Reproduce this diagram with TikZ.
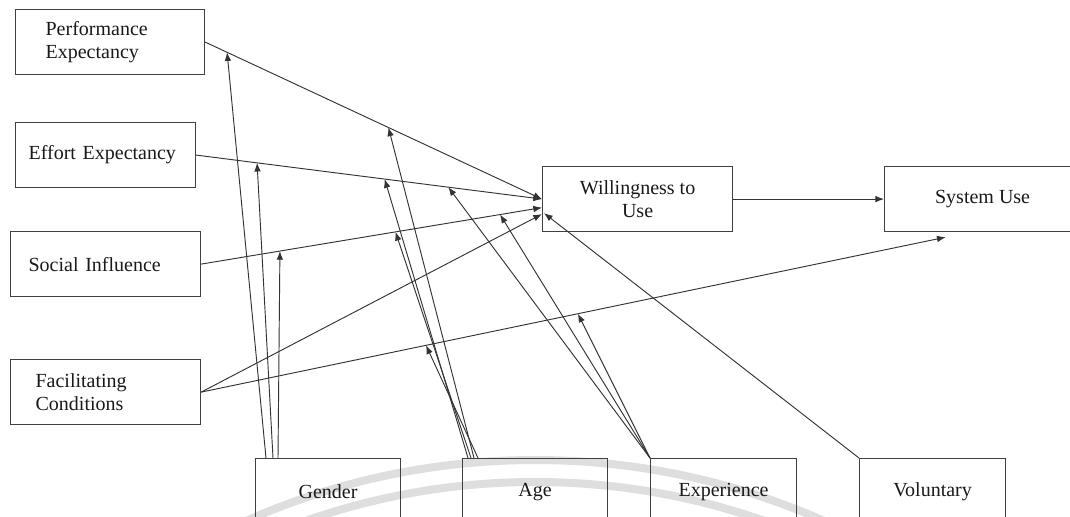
\documentclass[tikz,border=0pt]{standalone}
\usepackage{fontspec}
\setmainfont{Liberation Serif}
\usetikzlibrary{arrows.meta,calc}
\begin{document}
\begin{tikzpicture}[x=0.75pt,y=-0.75pt,
  box/.style={draw=black!75, line width=0.9pt, rectangle, minimum height=48.75pt,
    font=\fontsize{15}{17.5}\selectfont, inner ysep=0pt, text=black!90},
  conn/.style={draw=black!80, line width=0.7pt, -{Latex[length=6.5pt,width=5pt]}},
  wm/.style={draw=black!13, line width=6pt}]
\clip (0,0) rectangle (1070,517);
\fill[white] (0,0) rectangle (1070,517);
% watermark arcs
\draw[wm] (535,1174) circle[radius=535.5pt];
\draw[wm] (535,1174) circle[radius=519pt];
% predictor boxes
\node[box, anchor=north west, inner xsep=22.5pt, text width=96.75pt, align=left] (pe) at (15,9) {Performance\\Expectancy};
\node[box, anchor=north west, inner xsep=9.75pt, text width=115.5pt, align=left] (ee) at (15,122) {Effort Expectancy};
\node[box, anchor=north west, inner xsep=13.5pt, text width=115.5pt, align=left] (si) at (10,231) {Social Influence};
\node[box, anchor=north west, inner xsep=18.75pt, text width=105pt, align=left] (fc) at (10,359) {Facilitating\\Conditions};
% outcome boxes
\node[box, anchor=north west, minimum width=142.5pt, align=center] (wu) at (542,166) {Willingness to\\Use};
\node[box, anchor=north west, minimum width=147pt] (su) at (884,166) {System Use};
% moderator boxes
\node[box, anchor=north west, minimum width=108.75pt, minimum height=49.5pt] (gender) at (255,458) {Gender};
\node[box, anchor=north west, minimum width=108.75pt, minimum height=49.5pt] (age) at (462,458) {Age};
\node[box, anchor=north west, minimum width=109.5pt, minimum height=49.5pt] (exp) at (650,458) {Experience};
\node[box, anchor=north west, minimum width=109.5pt, minimum height=49.5pt] (vol) at (859,458) {Voluntary};
% main paths
\draw[conn] (pe.east) -- coordinate[pos=0.065] (peG) coordinate[pos=0.544] (peA) (wu.west);
\draw[conn] (ee.east) -- coordinate[pos=0.176] (eeG) coordinate[pos=0.545] (eeA) coordinate[pos=0.729] (eeE) (wu.west);
\draw[conn] (si.east) -- coordinate[pos=0.231] (siG) coordinate[pos=0.570] (siA) coordinate[pos=0.877] (siE) ($(wu.west)+(0,8.5)$);
\draw[conn] (fc.east) -- ($(wu.west)+(0,15)$);
\draw[conn] (fc.east) -- coordinate[pos=0.302] (fcA) coordinate[pos=0.506] (fcE) ($(su.south)+(-37,5)$);
\draw[conn] (wu.east) -- (su.west);
% moderators
\draw[conn] ($(gender.north west)+(11,0)$) -- (peG);
\draw[conn] ($(gender.north west)+(18,0)$) -- (eeG);
\draw[conn] ($(gender.north west)+(23,0)$) -- (siG);
\draw[conn] ($(age.north west)+(6,0)$) -- (eeA);
\draw[conn] ($(age.north west)+(9,0)$) -- (siA);
\draw[conn] ($(age.north west)+(12,0)$) -- (peA);
\draw[conn] ($(age.north west)+(16,0)$) -- (fcA);
\draw[conn] (exp.north west) -- (eeE);
\draw[conn] (exp.north west) -- (siE);
\draw[conn] (exp.north west) -- (fcE);
\draw[conn] (vol.north west) -- ($(wu.west)+(2,14)$);
\end{tikzpicture}
\end{document}
